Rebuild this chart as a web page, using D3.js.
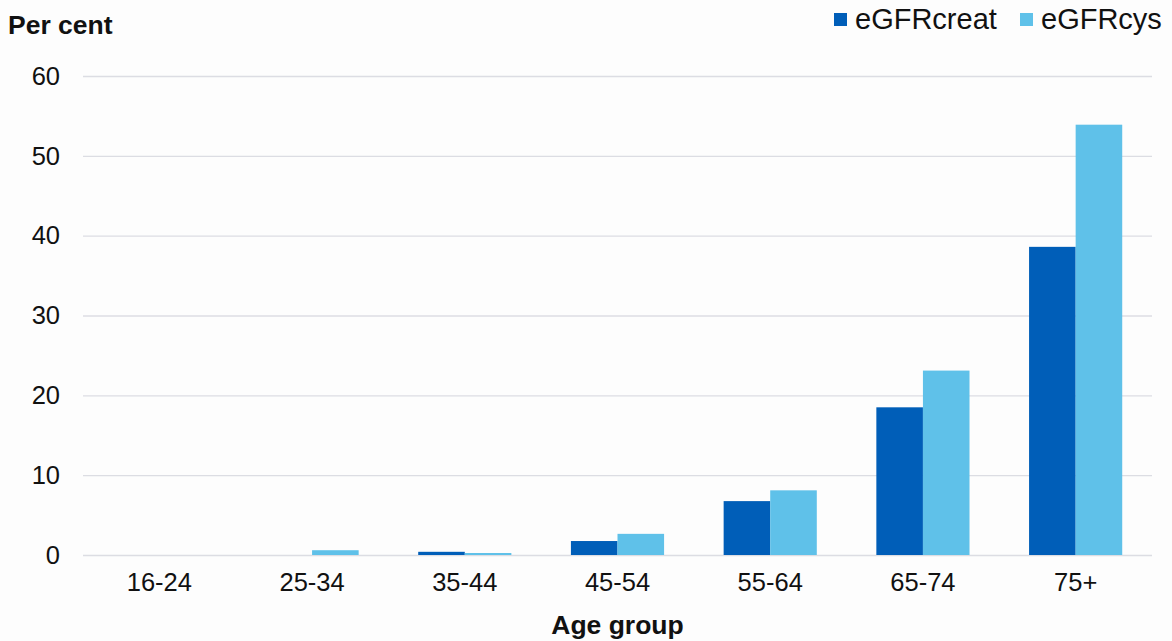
<!DOCTYPE html>
<html><head><meta charset="utf-8">
<script src="https://cdn.jsdelivr.net/npm/d3@7"></script>
<style>body{margin:0;background:#fdfdfd;} svg{display:block;font-family:"Liberation Sans",Arial,sans-serif;}</style>
</head><body>
<svg id="c" width="1172" height="641"></svg>
<script>
const categories = ["16-24","25-34","35-44","45-54","55-64","65-74","75+"];
const seriesNames = ["eGFRcreat","eGFRcys"];
const eGFRcreat = [0, 0, 0.4, 1.75, 6.75, 18.5, 38.6];
const eGFRcys = [0, 0.6, 0.25, 2.65, 8.1, 23.1, 53.9];
const yTicks = [0,10,20,30,40,50,60];
const colors = ["#005EB8","#5FC1E9"];

const svg = d3.select("#c");
const m = {left:83, right:1152, top:76, bottom:555};
const x = d3.scaleBand().domain(categories).range([m.left,m.right]).paddingInner(0.39).paddingOuter(0.195);
const xs = d3.scaleBand().domain(seriesNames).range([0,x.bandwidth()]);
const y = d3.scaleLinear().domain([0,60]).range([m.bottom,m.top]);

svg.append("g").selectAll("line").data(yTicks).join("line")
  .attr("x1",m.left).attr("x2",m.right)
  .attr("y1",d=>y(d)+0.5).attr("y2",d=>y(d)+0.5)
  .attr("stroke","#dcdde3").attr("stroke-width",1.3);

const yAxis = svg.append("g").attr("transform",`translate(${m.left},0)`)
  .call(d3.axisLeft(y).tickValues(yTicks).tickSize(0).tickPadding(23));
yAxis.select(".domain").remove();
yAxis.selectAll("text").attr("font-size",25.5).attr("fill","#111").style("font-family","Liberation Sans, Arial, sans-serif");

const xAxis = svg.append("g").attr("transform",`translate(0,${m.bottom})`)
  .call(d3.axisBottom(x).tickSize(0).tickPadding(18));
xAxis.select(".domain").remove();
xAxis.selectAll("text").attr("font-size",25.5).attr("fill","#111").style("font-family","Liberation Sans, Arial, sans-serif");

const data = categories.map((c,i)=>({cat:c, vals:[eGFRcreat[i], eGFRcys[i]]}));
const g = svg.append("g").selectAll("g").data(data).join("g")
  .attr("transform",d=>`translate(${x(d.cat)},0)`);
g.selectAll("rect").data(d=>d.vals.map((v,j)=>({v,j}))).join("rect")
  .attr("x",d=>xs(seriesNames[d.j])).attr("width",xs.bandwidth())
  .attr("y",d=>y(d.v)).attr("height",d=>y(0)-y(d.v))
  .attr("fill",d=>colors[d.j]);

svg.append("text").attr("x",8).attr("y",34).attr("font-size",26.5).attr("font-weight","bold").attr("fill","#111").text("Per cent");
svg.append("text").attr("x",(m.left+m.right)/2).attr("y",634).attr("text-anchor","middle").attr("font-size",26.5).attr("font-weight","bold").attr("fill","#111").text("Age group");

const legX = [834, 1020];
const leg = svg.append("g").selectAll("g").data(seriesNames).join("g");
leg.append("rect").attr("x",(d,i)=>legX[i]).attr("y",13).attr("width",13).attr("height",13).attr("fill",(d,i)=>colors[i]);
leg.append("text").attr("x",(d,i)=>legX[i]+21).attr("y",29).attr("font-size",29).attr("fill","#111").text(d=>d);
</script>
</body></html>
